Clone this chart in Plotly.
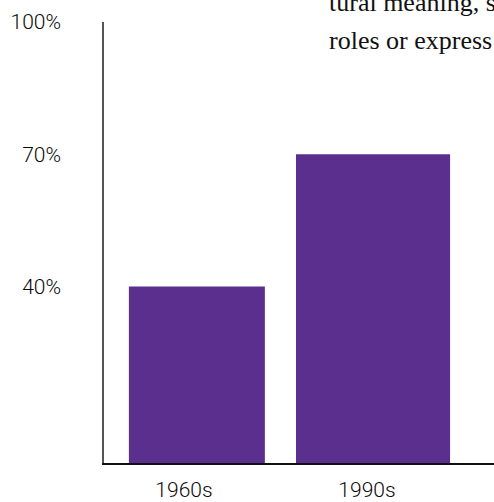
import plotly.graph_objects as go

# Share of respondents by decade
decades = ["1960s", "1990s"]
shares = [40, 70]
tick_values = [40, 70, 100]
tick_labels = ["40%", "70%", "100%"]

# Fragment of running body text that sits above the chart
body_lines = ["tural meaning, s", "roles or express"]

W, H = 494, 502
ML, MR, MT, MB = 104, 0, 22, 26
PW, PH = W - ML - MR, H - MT - MB

def px_x(p):
    return (p - ML) / PW

def px_y(p):
    return (H - MB - p) / PH

fig = go.Figure(
    go.Bar(
        x=decades,
        y=shares,
        marker=dict(color="#5B2F8E", line=dict(width=0)),
        width=[0.743, 0.842],
        offset=[-0.301, -0.388],
        hoverinfo="skip",
    )
)

label_font = dict(family="Roboto", size=21, color="#0a0a0a", weight=300)

fig.update_layout(
    width=W,
    height=H,
    margin=dict(l=ML, r=MR, t=MT, b=MB, pad=0),
    paper_bgcolor="white",
    plot_bgcolor="white",
    showlegend=False,
    font=label_font,
)

fig.update_xaxes(
    type="category",
    range=[-0.437, 1.694],
    showgrid=False,
    zeroline=False,
    showline=True,
    linecolor="#111111",
    linewidth=2,
    ticks="",
    ticklabelstandoff=7,
    tickfont=label_font,
)

fig.update_yaxes(
    range=[0, 100],
    tickvals=tick_values,
    ticktext=tick_labels,
    showgrid=False,
    zeroline=False,
    showline=True,
    linecolor="#555555",
    linewidth=1.5,
    ticks="",
    ticklabelstandoff=37,
    tickfont=label_font,
)

for line, base in zip(body_lines, [9, 48]):
    fig.add_annotation(
        text=line,
        xref="paper",
        yref="paper",
        x=px_x(327),
        y=px_y(base - 7),
        xanchor="left",
        yanchor="middle",
        showarrow=False,
        font=dict(family="Liberation Serif", size=26, color="#111111"),
    )

fig.write_html("out.html")
